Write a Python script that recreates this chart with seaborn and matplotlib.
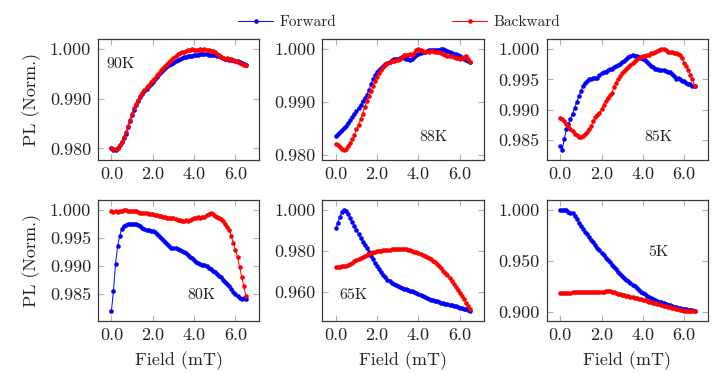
import numpy as np
import pandas as pd
import matplotlib
matplotlib.use("Agg")
import matplotlib.pyplot as plt
from matplotlib.lines import Line2D
from matplotlib.ticker import MultipleLocator, FormatStrFormatter
import seaborn as sns

FIELD = [0.0, 0.1, 0.2, 0.3, 0.4, 0.5, 0.6, 0.7, 0.8, 0.9,
         1.0, 1.1, 1.2, 1.3, 1.4, 1.5, 1.6, 1.7, 1.8, 1.9,
         2.0, 2.1, 2.2, 2.3, 2.4, 2.5, 2.6, 2.7, 2.8, 2.9,
         3.0, 3.1, 3.2, 3.3, 3.4, 3.5, 3.6, 3.7, 3.8, 3.9,
         4.0, 4.1, 4.2, 4.3, 4.4, 4.5, 4.6, 4.7, 4.8, 4.9,
         5.0, 5.1, 5.2, 5.3, 5.4, 5.5, 5.6, 5.7, 5.8, 5.9,
         6.0, 6.1, 6.2, 6.3, 6.4, 6.5]

TEMPS = ["90K", "88K", "85K", "80K", "65K", "5K"]

FWD_90K = [0.9800, 0.9797, 0.9797, 0.9800, 0.9806, 0.9813, 0.9821, 0.9830, 0.9843, 0.9855,
           0.9868, 0.9878, 0.9887, 0.9895, 0.9903, 0.9909, 0.9915, 0.9920, 0.9925, 0.9929,
           0.9934, 0.9939, 0.9944, 0.9949, 0.9954, 0.9958, 0.9962, 0.9966, 0.9969, 0.9971,
           0.9973, 0.9976, 0.9979, 0.9981, 0.9983, 0.9984, 0.9985, 0.9986, 0.9986, 0.9987,
           0.9988, 0.9989, 0.9989, 0.9990, 0.9990, 0.9990, 0.9990, 0.9989, 0.9989, 0.9988,
           0.9988, 0.9987, 0.9986, 0.9984, 0.9983, 0.9981, 0.9980, 0.9979, 0.9979, 0.9978,
           0.9977, 0.9976, 0.9974, 0.9972, 0.9970, 0.9968]
BWD_90K = [0.9801, 0.9798, 0.9798, 0.9800, 0.9806, 0.9814, 0.9823, 0.9833, 0.9845, 0.9857,
           0.9870, 0.9881, 0.9890, 0.9898, 0.9906, 0.9912, 0.9918, 0.9923, 0.9928, 0.9933,
           0.9938, 0.9942, 0.9947, 0.9952, 0.9957, 0.9961, 0.9966, 0.9970, 0.9974, 0.9978,
           0.9982, 0.9986, 0.9990, 0.9993, 0.9994, 0.9995, 0.9996, 0.9998, 0.9999, 1.0000,
           0.9999, 0.9998, 0.9999, 1.0000, 0.9999, 1.0000, 0.9999, 0.9998, 0.9997, 0.9996,
           0.9994, 0.9991, 0.9988, 0.9985, 0.9982, 0.9981, 0.9982, 0.9981, 0.9980, 0.9979,
           0.9977, 0.9975, 0.9973, 0.9971, 0.9969, 0.9967]

FWD_88K = [0.9836, 0.9840, 0.9843, 0.9847, 0.9851, 0.9855, 0.9860, 0.9866, 0.9872, 0.9878,
           0.9883, 0.9889, 0.9895, 0.9902, 0.9908, 0.9914, 0.9923, 0.9933, 0.9943, 0.9951,
           0.9957, 0.9961, 0.9965, 0.9968, 0.9971, 0.9973, 0.9976, 0.9979, 0.9981, 0.9982,
           0.9982, 0.9983, 0.9985, 0.9984, 0.9982, 0.9981, 0.9980, 0.9982, 0.9985, 0.9988,
           0.9991, 0.9993, 0.9994, 0.9995, 0.9997, 0.9998, 0.9998, 0.9999, 0.9999, 0.9999,
           0.9999, 1.0000, 1.0000, 0.9999, 0.9997, 0.9995, 0.9993, 0.9991, 0.9990, 0.9988,
           0.9986, 0.9984, 0.9982, 0.9980, 0.9978, 0.9976]
BWD_88K = [0.9821, 0.9818, 0.9814, 0.9811, 0.9809, 0.9811, 0.9816, 0.9822, 0.9829, 0.9838,
           0.9848, 0.9857, 0.9867, 0.9878, 0.9890, 0.9901, 0.9911, 0.9921, 0.9930, 0.9939,
           0.9948, 0.9955, 0.9961, 0.9966, 0.9970, 0.9973, 0.9975, 0.9977, 0.9978, 0.9979,
           0.9979, 0.9981, 0.9985, 0.9988, 0.9989, 0.9989, 0.9990, 0.9989, 0.9993, 0.9998,
           1.0000, 0.9998, 0.9996, 0.9995, 0.9996, 0.9995, 0.9997, 0.9996, 0.9995, 0.9995,
           0.9995, 0.9993, 0.9991, 0.9989, 0.9987, 0.9986, 0.9987, 0.9985, 0.9984, 0.9983,
           0.9982, 0.9983, 0.9985, 0.9986, 0.9981, 0.9976]

FWD_85K = [0.9841, 0.9834, 0.9852, 0.9868, 0.9877, 0.9885, 0.9894, 0.9903, 0.9913, 0.9922,
           0.9931, 0.9939, 0.9944, 0.9947, 0.9950, 0.9951, 0.9952, 0.9953, 0.9953, 0.9957,
           0.9960, 0.9962, 0.9963, 0.9965, 0.9967, 0.9968, 0.9970, 0.9972, 0.9974, 0.9976,
           0.9979, 0.9981, 0.9984, 0.9987, 0.9989, 0.9990, 0.9989, 0.9988, 0.9987, 0.9986,
           0.9984, 0.9982, 0.9979, 0.9976, 0.9973, 0.9971, 0.9968, 0.9967, 0.9966, 0.9966,
           0.9966, 0.9964, 0.9962, 0.9963, 0.9959, 0.9955, 0.9951, 0.9953, 0.9950, 0.9948,
           0.9947, 0.9945, 0.9943, 0.9942, 0.9940, 0.9939]
BWD_85K = [0.9887, 0.9885, 0.9882, 0.9877, 0.9873, 0.9868, 0.9865, 0.9861, 0.9858, 0.9856,
           0.9855, 0.9857, 0.9860, 0.9864, 0.9868, 0.9873, 0.9881, 0.9888, 0.9892, 0.9895,
           0.9901, 0.9908, 0.9915, 0.9920, 0.9924, 0.9928, 0.9937, 0.9944, 0.9950, 0.9955,
           0.9960, 0.9964, 0.9968, 0.9971, 0.9974, 0.9977, 0.9980, 0.9983, 0.9986, 0.9987,
           0.9988, 0.9989, 0.9990, 0.9991, 0.9993, 0.9994, 0.9995, 0.9997, 0.9999, 1.0000,
           1.0000, 0.9998, 0.9996, 0.9995, 0.9996, 0.9994, 0.9993, 0.9992, 0.9990, 0.9985,
           0.9977, 0.9972, 0.9966, 0.9958, 0.9951, 0.9940]

FWD_80K = [0.9820, 0.9856, 0.9904, 0.9936, 0.9953, 0.9967, 0.9972, 0.9974, 0.9975, 0.9975,
           0.9975, 0.9975, 0.9975, 0.9973, 0.9971, 0.9968, 0.9966, 0.9965, 0.9964, 0.9963,
           0.9962, 0.9960, 0.9957, 0.9954, 0.9950, 0.9947, 0.9943, 0.9939, 0.9935, 0.9933,
           0.9932, 0.9932, 0.9931, 0.9929, 0.9927, 0.9926, 0.9923, 0.9920, 0.9917, 0.9914,
           0.9911, 0.9908, 0.9905, 0.9903, 0.9902, 0.9902, 0.9900, 0.9897, 0.9894, 0.9892,
           0.9890, 0.9886, 0.9883, 0.9880, 0.9876, 0.9872, 0.9868, 0.9864, 0.9859, 0.9854,
           0.9850, 0.9846, 0.9843, 0.9842, 0.9843, 0.9841]
BWD_80K = [0.9998, 0.9997, 0.9998, 0.9997, 0.9998, 0.9998, 1.0000, 1.0000, 0.9999, 0.9998,
           0.9998, 0.9999, 0.9999, 0.9997, 0.9995, 0.9994, 0.9995, 0.9994, 0.9993, 0.9993,
           0.9993, 0.9992, 0.9991, 0.9990, 0.9989, 0.9988, 0.9987, 0.9986, 0.9986, 0.9985,
           0.9985, 0.9984, 0.9983, 0.9982, 0.9981, 0.9981, 0.9982, 0.9981, 0.9983, 0.9984,
           0.9985, 0.9986, 0.9987, 0.9986, 0.9987, 0.9988, 0.9991, 0.9993, 0.9994, 0.9993,
           0.9990, 0.9988, 0.9986, 0.9984, 0.9981, 0.9975, 0.9970, 0.9965, 0.9953, 0.9941,
           0.9929, 0.9916, 0.9898, 0.9881, 0.9864, 0.9847]

FWD_65K = [0.9911, 0.9939, 0.9968, 0.9992, 1.0000, 0.9995, 0.9981, 0.9963, 0.9944, 0.9924,
           0.9903, 0.9883, 0.9863, 0.9846, 0.9830, 0.9815, 0.9796, 0.9777, 0.9759, 0.9742,
           0.9726, 0.9711, 0.9697, 0.9684, 0.9672, 0.9661, 0.9653, 0.9645, 0.9639, 0.9634,
           0.9629, 0.9625, 0.9621, 0.9617, 0.9613, 0.9610, 0.9607, 0.9603, 0.9598, 0.9593,
           0.9589, 0.9584, 0.9579, 0.9574, 0.9569, 0.9565, 0.9562, 0.9559, 0.9557, 0.9555,
           0.9552, 0.9549, 0.9546, 0.9543, 0.9540, 0.9537, 0.9535, 0.9532, 0.9530, 0.9527,
           0.9524, 0.9521, 0.9518, 0.9515, 0.9512, 0.9508]
BWD_65K = [0.9723, 0.9723, 0.9724, 0.9725, 0.9727, 0.9729, 0.9733, 0.9738, 0.9744, 0.9751,
           0.9758, 0.9763, 0.9768, 0.9773, 0.9778, 0.9782, 0.9786, 0.9790, 0.9793, 0.9796,
           0.9798, 0.9800, 0.9802, 0.9803, 0.9805, 0.9806, 0.9807, 0.9808, 0.9809, 0.9810,
           0.9811, 0.9810, 0.9810, 0.9809, 0.9808, 0.9806, 0.9803, 0.9800, 0.9797, 0.9794,
           0.9790, 0.9786, 0.9781, 0.9776, 0.9771, 0.9766, 0.9760, 0.9753, 0.9745, 0.9736,
           0.9726, 0.9715, 0.9704, 0.9693, 0.9681, 0.9669, 0.9655, 0.9641, 0.9627, 0.9612,
           0.9597, 0.9581, 0.9565, 0.9549, 0.9533, 0.9516]

FWD_5K = [0.9997, 1.0000, 1.0000, 0.9998, 0.9984, 0.9974, 0.9967, 0.9940, 0.9908, 0.9876,
          0.9843, 0.9816, 0.9790, 0.9763, 0.9737, 0.9711, 0.9685, 0.9658, 0.9632, 0.9606,
          0.9580, 0.9557, 0.9534, 0.9511, 0.9488, 0.9466, 0.9443, 0.9420, 0.9397, 0.9374,
          0.9351, 0.9334, 0.9317, 0.9301, 0.9285, 0.9269, 0.9252, 0.9236, 0.9219, 0.9203,
          0.9187, 0.9175, 0.9163, 0.9152, 0.9141, 0.9131, 0.9122, 0.9113, 0.9105, 0.9097,
          0.9089, 0.9082, 0.9075, 0.9068, 0.9062, 0.9056, 0.9050, 0.9045, 0.9040, 0.9035,
          0.9030, 0.9027, 0.9024, 0.9021, 0.9018, 0.9016]
BWD_5K = [0.9187, 0.9188, 0.9189, 0.9190, 0.9191, 0.9193, 0.9194, 0.9196, 0.9197, 0.9199,
          0.9200, 0.9201, 0.9202, 0.9202, 0.9203, 0.9203, 0.9202, 0.9200, 0.9199, 0.9198,
          0.9197, 0.9201, 0.9206, 0.9210, 0.9206, 0.9200, 0.9194, 0.9187, 0.9181, 0.9175,
          0.9170, 0.9166, 0.9161, 0.9157, 0.9152, 0.9148, 0.9143, 0.9137, 0.9132, 0.9126,
          0.9121, 0.9116, 0.9110, 0.9105, 0.9100, 0.9095, 0.9089, 0.9083, 0.9078, 0.9072,
          0.9066, 0.9061, 0.9055, 0.9050, 0.9044, 0.9039, 0.9034, 0.9029, 0.9024, 0.9020,
          0.9016, 0.9015, 0.9014, 0.9014, 0.9013, 0.9013]

FORWARD = [FWD_90K, FWD_88K, FWD_85K, FWD_80K, FWD_65K, FWD_5K]
BACKWARD = [BWD_90K, BWD_88K, BWD_85K, BWD_80K, BWD_65K, BWD_5K]

# y tick spacing and where the temperature tag sits (axes fraction)
Y_STEP = [0.01, 0.01, 0.005, 0.005, 0.02, 0.05]
TAG_POS = [(0.14, 0.79), (0.69, 0.19), (0.69, 0.19), (0.64, 0.21), (0.19, 0.21), (0.69, 0.57)]

sns.set_style("ticks")
plt.rcParams["font.family"] = ["cmr10", "DejaVu Serif"]
plt.rcParams["axes.formatter.use_mathtext"] = True
plt.rcParams["mathtext.fontset"] = "cm"

palette = {"Forward": "#0000ff", "Backward": "#ff0000"}
TXT = "#222222"
FRAME = "#3a3a3a"
TICK = "#b0b0b0"

fig, axes = plt.subplots(2, 3, figsize=(7.13, 3.89), dpi=100)
fig.subplots_adjust(left=0.1374, right=0.993, top=0.8997, bottom=0.1748, wspace=0.391, hspace=0.33)

for i, ax in enumerate(axes.flat):
    df = pd.DataFrame({
        "Field": FIELD + FIELD,
        "PL": FORWARD[i] + BACKWARD[i],
        "Sweep": ["Forward"] * len(FIELD) + ["Backward"] * len(FIELD),
    })
    sns.lineplot(data=df, x="Field", y="PL", hue="Sweep", hue_order=["Forward", "Backward"],
                 palette=palette, marker="o", markersize=3.3, markeredgewidth=0,
                 linewidth=0.7, estimator=None, sort=False, legend=False, ax=ax)
    ax.margins(x=0.1, y=0.1)
    ax.xaxis.set_major_locator(MultipleLocator(2.0))
    ax.xaxis.set_major_formatter(FormatStrFormatter("%.1f"))
    ax.yaxis.set_major_locator(MultipleLocator(Y_STEP[i]))
    ax.yaxis.set_major_formatter(FormatStrFormatter("%.3f"))
    ax.tick_params(direction="in", top=True, right=True, length=4, width=0.8,
                   color=TICK, labelsize=13, labelcolor=TXT, pad=5)
    for s in ax.spines.values():
        s.set_color(FRAME)
        s.set_linewidth(0.9)
    ax.set_xlabel("Field (mT)" if i >= 3 else "", fontsize=13, color=TXT, labelpad=6)
    ax.set_ylabel("PL (Norm.)" if i % 3 == 0 else "", fontsize=13, color=TXT, labelpad=6)
    tx, ty = TAG_POS[i]
    ax.text(tx, ty, TEMPS[i], transform=ax.transAxes, ha="center", va="center",
            fontsize=11.5, color=TXT)

handles = [Line2D([], [], color=palette[k], marker="o", markersize=3.3, markeredgewidth=0,
                  linewidth=0.7) for k in ["Forward", "Backward"]]
fig.legend(handles, ["Forward", "Backward"], loc="center", bbox_to_anchor=(0.56, 0.943),
           ncol=2, frameon=False, fontsize=11, handlelength=2.3, handletextpad=0.4,
           columnspacing=7.6, labelcolor=TXT)

fig.savefig("out.png", dpi=100)
